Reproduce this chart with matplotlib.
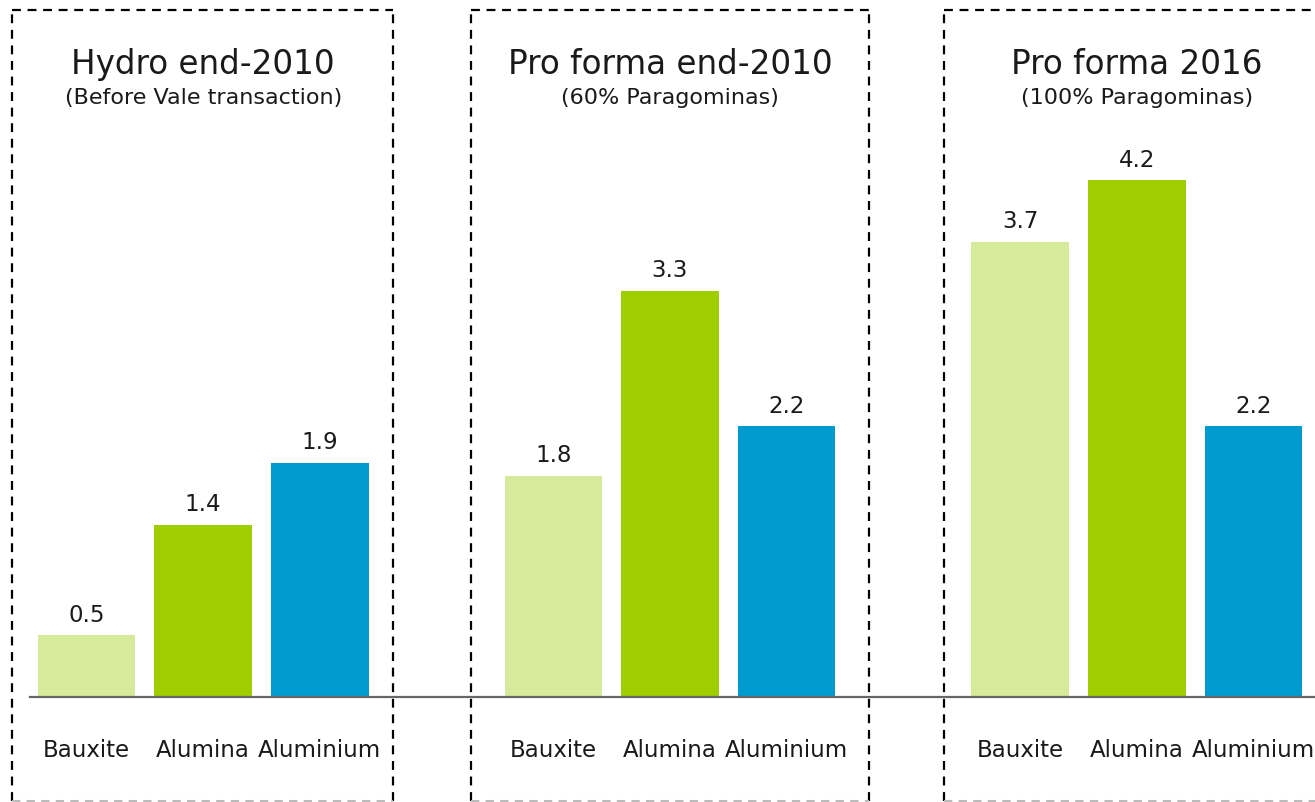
import matplotlib.pyplot as plt

categories = ["Bauxite", "Alumina", "Aluminium"]
titles = ["Hydro end-2010", "Pro forma end-2010", "Pro forma 2016"]
subtitles = ["(Before Vale transaction)", "(60% Paragominas)", "(100% Paragominas)"]
hydro_2010 = [0.5, 1.4, 1.9]
proforma_2010 = [1.8, 3.3, 2.2]
proforma_2016 = [3.7, 4.2, 2.2]

colors = ["#D6EA9B", "#9ECE00", "#009BCE"]
text_col = "#1a1a1a"

# frame edges relative to the first bar of each panel
frame_left = [-0.639, -0.705, -0.652]
frame_right = [2.626, 2.705, 2.705]

fig = plt.figure(figsize=(13.15, 8.02), dpi=100)
ax = fig.add_axes([0, 0, 1, 1])
ax.set_xlim(-0.741, 10.527)
ax.set_ylim(-0.854, 5.667)
ax.axis("off")

# baseline
ax.plot([-0.48, 10.6], [0, 0], color="#666666", lw=1.6, zorder=3)

groups = [hydro_2010, proforma_2010, proforma_2016]
for g, vals in enumerate(groups):
    start = g * 4
    xs = [start + i for i in range(len(vals))]
    ax.bar(xs, vals, width=0.835, color=colors, zorder=2)
    for x, v in zip(xs, vals):
        ax.annotate(f"{v:.1f}", (x, v), xytext=(0, 10), textcoords="offset points",
                    ha="center", va="baseline", fontsize=16.5, color=text_col)
    for x, c in zip(xs, categories):
        ax.text(x, -0.488, c, ha="center", va="baseline", fontsize=16.5, color=text_col)

    ax.text(start + 1, 5.065, titles[g], ha="center", va="baseline", fontsize=23.5, color=text_col)
    ax.text(start + 1, 4.82, subtitles[g], ha="center", va="baseline", fontsize=16, color=text_col)

    # dashed frame round each panel
    left, right = start + frame_left[g], start + frame_right[g]
    top, bottom = 5.585, -0.845
    dash = (0, (4, 3))
    ax.plot([left, left], [bottom, top], color="black", lw=1.6, ls=dash, zorder=1)
    ax.plot([left, right], [top, top], color="black", lw=1.6, ls=dash, zorder=1)
    ax.plot([right, right], [bottom, top], color="black", lw=1.6, ls=dash, zorder=1)
    ax.plot([left, right], [bottom, bottom], color="#bbbbbb", lw=1.5, ls=dash, zorder=1)

fig.savefig("out.png", dpi=100, facecolor="white")
